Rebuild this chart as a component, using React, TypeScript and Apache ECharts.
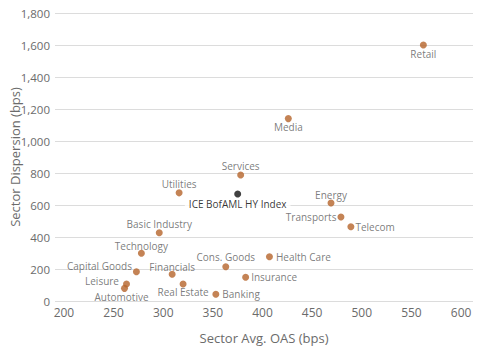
import React, { useEffect, useRef } from "react";
import * as echarts from "echarts";

const sectors = [
  "Retail", "Media", "Services", "Utilities", "Energy", "Transports", "Telecom",
  "Basic Industry", "Technology", "Capital Goods", "Financials", "Cons. Goods",
  "Health Care", "Insurance", "Leisure", "Automotive", "Real Estate", "Banking",
];
const avgOAS = [562, 426, 378, 316, 469, 479, 489, 296, 278, 273, 309, 363, 407, 383, 263, 261, 320, 353];
const dispersion = [1600, 1140, 788, 676, 612, 525, 464, 427, 298, 183, 167, 214, 277, 148, 106, 79, 106, 42];

const indexName = "ICE BofAML HY Index";
const indexOAS = [375];
const indexDispersion = [669];

const xTicks = [200, 250, 300, 350, 400, 450, 500, 550, 600];

// label placement per sector (layout config)
const labelPlacement: Record<string, { position: string; distance?: number; offset?: number[] }> = {
  Retail: { position: "bottom", distance: 0 },
  Media: { position: "bottom", distance: 0 },
  Services: { position: "top", distance: 0 },
  Utilities: { position: "top", distance: 0 },
  Energy: { position: "top", distance: 0 },
  Transports: { position: "left", distance: 1 },
  Telecom: { position: "right", distance: 1 },
  "Basic Industry": { position: "top", distance: 0 },
  Technology: { position: "top", distance: -1 },
  "Capital Goods": { position: "left", distance: 1, offset: [0, -6] },
  Financials: { position: "top", distance: -1 },
  "Cons. Goods": { position: "top", distance: 1 },
  "Health Care": { position: "right", distance: 3 },
  Insurance: { position: "right", distance: 2 },
  Leisure: { position: "left", distance: 4, offset: [0, -3] },
  Automotive: { position: "bottom", distance: 0, offset: [-3, 0] },
  "Real Estate": { position: "bottom", distance: -1 },
  Banking: { position: "right", distance: 3 },
};

const FONT = "'Open Sans', sans-serif";

export default function App() {
  const ref = useRef<HTMLDivElement>(null);
  useEffect(() => {
    if (!ref.current) return;
    const chart = echarts.init(ref.current, undefined, { renderer: "svg" });
    const sectorData = sectors.map((name, i) => {
      const p = labelPlacement[name];
      return {
        name,
        value: [avgOAS[i], dispersion[i]],
        label: { position: p.position, distance: p.distance ?? 0, offset: p.offset ?? [0, 0] },
      };
    });
    chart.setOption({
      animation: false,
      textStyle: { fontFamily: FONT },
      grid: { left: 55, right: 7, top: 13, bottom: 49, containLabel: false, outerBoundsMode: "none" },
      xAxis: {
        type: "value",
        min: 191,
        max: 612,
        name: "Sector Avg. OAS (bps)",
        nameLocation: "middle",
        nameGap: 30,
        nameMoveOverlap: false,
        nameTextStyle: { color: "#6b6b6b", fontSize: 13, fontFamily: FONT },
        axisLine: { show: false },
        axisTick: { show: false },
        splitLine: { show: false },
        axisLabel: {
          customValues: xTicks,
          color: "#6b6b6b",
          fontSize: 12,
          fontFamily: FONT,
          margin: 5,
        },
      },
      yAxis: {
        type: "value",
        min: 0,
        max: 1800,
        interval: 200,
        name: "Sector Dispersion (bps)",
        nameLocation: "middle",
        nameGap: 34,
        nameMoveOverlap: false,
        nameTextStyle: { color: "#6b6b6b", fontSize: 13, fontFamily: FONT },
        axisLine: { show: false },
        axisTick: { show: false },
        splitLine: { show: true, lineStyle: { color: "#dcdcdc", width: 1 } },
        axisLabel: {
          color: "#6b6b6b",
          fontSize: 11.5,
          fontFamily: FONT,
          margin: 5,
          formatter: (v: number) => v.toLocaleString("en-US"),
        },
      },
      series: [
        {
          type: "scatter",
          symbolSize: 7,
          itemStyle: { color: "#B5642A" },
          data: sectorData,
          label: {
            show: true,
            formatter: "{b}",
            color: "#5a5a5a",
            fontSize: 10,
            fontFamily: FONT,
          },
          z: 3,
        },
        {
          type: "scatter",
          symbolSize: 7,
          itemStyle: { color: "#111111" },
          data: indexOAS.map((x, i) => ({ name: indexName, value: [x, indexDispersion[i]] })),
          label: {
            show: true,
            position: "bottom",
            distance: 2,
            formatter: "{b}",
            color: "#000000",
            fontSize: 10,
            fontFamily: FONT,
            backgroundColor: "#ffffff",
            padding: [0, 4],
          },
          z: 4,
        },
      ],
    });
    return () => chart.dispose();
  }, []);
  return (
    <div
      ref={ref}
      style={{ position: "fixed", left: 0, top: 0, width: 480, height: 350, background: "#ffffff" }}
    />
  );
}
